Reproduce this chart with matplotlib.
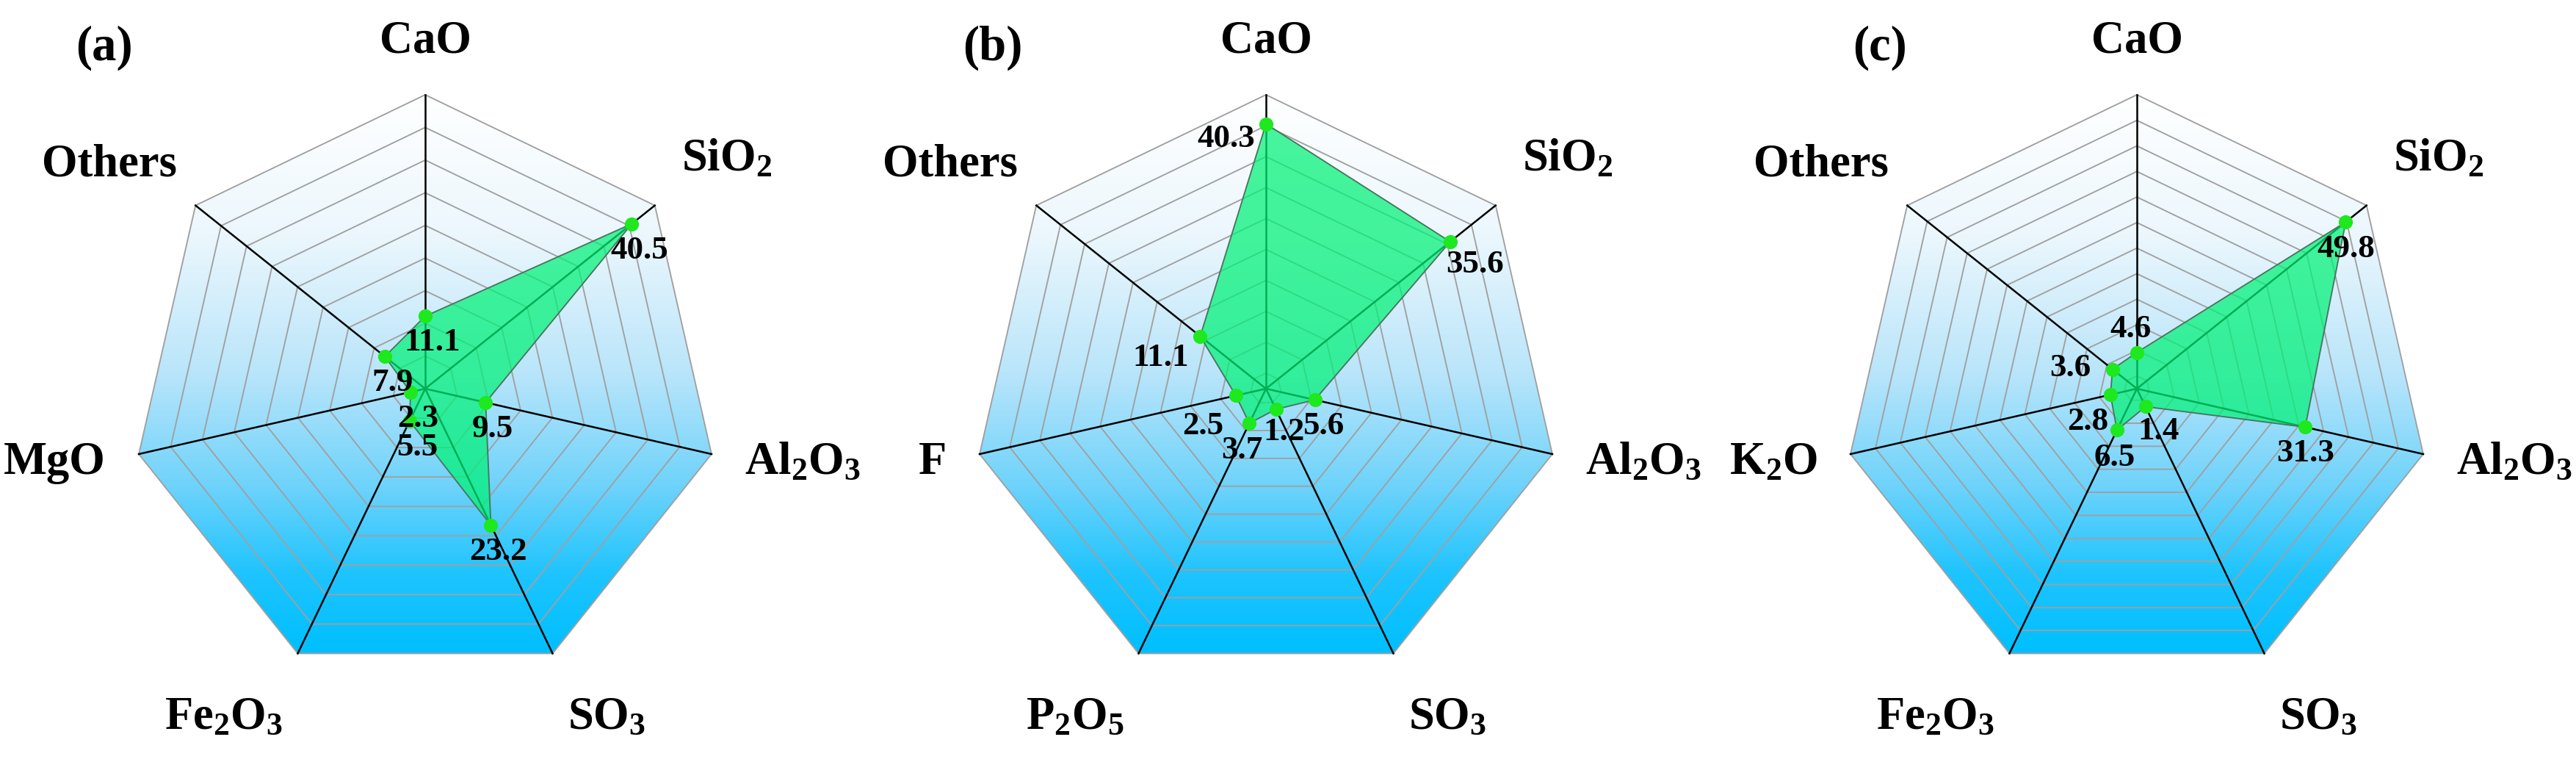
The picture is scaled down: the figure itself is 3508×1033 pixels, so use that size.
import numpy as np
import matplotlib
matplotlib.use('Agg')
import matplotlib.pyplot as plt
from matplotlib.patches import Polygon
from matplotlib.colors import LinearSegmentedColormap

plt.rcParams['font.family'] = 'Liberation Serif'
plt.rcParams['font.weight'] = 'bold'
plt.rcParams['mathtext.fontset'] = 'custom'
plt.rcParams['mathtext.rm'] = 'Liberation Serif:bold'
plt.rcParams['mathtext.it'] = 'Liberation Serif:bold'
plt.rcParams['mathtext.bf'] = 'Liberation Serif:bold'

# data (clockwise from top)
labels_a = ['CaO', r'SiO$_2$', r'Al$_2$O$_3$', r'SO$_3$', r'Fe$_2$O$_3$', 'MgO', 'Others']
values_a = [11.1, 40.5, 9.5, 23.2, 5.5, 2.3, 7.9]
labels_b = ['CaO', r'SiO$_2$', r'Al$_2$O$_3$', r'SO$_3$', r'P$_2$O$_5$', 'F', 'Others']
values_b = [40.3, 35.6, 5.6, 1.2, 3.7, 2.5, 11.1]
labels_c = ['CaO', r'SiO$_2$', r'Al$_2$O$_3$', r'SO$_3$', r'Fe$_2$O$_3$', r'K$_2$O', 'Others']
values_c = [4.6, 49.8, 31.3, 1.4, 6.5, 2.8, 3.6]
panels = ['(a)', '(b)', '(c)']

# radial axis range and ring step of each chart
scale_a = (0, 45, 5)
scale_b = (-2.5, 45, 5)
scale_c = (-2.5, 55, 5)

# layout (pixels)
W, H = 3508, 1033
R_PX = 400
CY = 529
centers_x = [579, 1724, 2910]
panel_x = [142, 1352, 2560]
# value label offsets from their point (px, y up)
val_off_a = [(10, -36)] * 7
val_off_b = [(-54, -20), (34, -31), (12, -36), (11, -31), (-10, -37), (-45, -42), (-54, -29)]
val_off_c = [(-8, 32), (0, -37), (0, -36), (18, -34), (-3, -38), (-31, -37), (-58, 2)]
# axis label offsets from the vertex (px, y up) and alignment
lab_off = [(0, 72, 'center'), (36, 62, 'left'), (45, -12, 'left'), (20, -88, 'left'),
           (-20, -88, 'right'), (-45, -12, 'right'), (-25, 55, 'right')]

cmap = LinearSegmentedColormap.from_list(
    'bg', [(0, '#ffffff'), (0.25, '#ecf7fd'), (0.5, '#b9e5fa'), (0.7, '#6fd3fb'),
           (0.86, '#1ec4fe'), (1, '#00bfff')])

n = 7
ang = np.deg2rad(90 - np.arange(n) * 360 / n)
ux, uy = np.cos(ang), np.sin(ang)

fig = plt.figure(figsize=(W / 300, H / 300), dpi=300)

charts = [(labels_a, values_a, scale_a, val_off_a),
          (labels_b, values_b, scale_b, val_off_b),
          (labels_c, values_c, scale_c, val_off_c)]

for i, (labels, values, scale, voff) in enumerate(charts):
    cx = centers_x[i]
    half = 580
    ax = fig.add_axes([(cx - half) / W, 0, 2 * half / W, 1])
    ax.set_xlim(-half / R_PX, half / R_PX)
    ax.set_ylim(-(H - CY) / R_PX, CY / R_PX)
    ax.set_axis_off()

    # gradient background clipped to the heptagon
    hept = Polygon(np.column_stack([ux, uy]), closed=True, transform=ax.transData,
                   facecolor='none', edgecolor='none')
    ax.add_patch(hept)
    grad = np.linspace(0, 1, 256).reshape(-1, 1)
    im = ax.imshow(grad, cmap=cmap, extent=(-1, 1, uy.min(), 1), aspect='auto',
                   origin='upper', zorder=0)
    im.set_clip_path(hept)

    rmin, rmax, step = scale
    first = np.ceil(rmin / step) * step
    if first <= rmin:
        first += step
    for v in np.arange(first, rmax + step / 2, step):
        r = (v - rmin) / (rmax - rmin)
        ax.plot(np.append(ux, ux[0]) * r, np.append(uy, uy[0]) * r,
                color='#a0a0a0', lw=0.45, zorder=1)
    for k in range(n):
        ax.plot([0, ux[k]], [0, uy[k]], color='black', lw=0.6, zorder=2)

    vals = np.array(values)
    rr = (vals - rmin) / (rmax - rmin)
    x, y = rr * ux, rr * uy
    ax.fill(x, y, color='#00f276', alpha=0.72, lw=0, zorder=3)
    ax.plot(np.append(x, x[0]), np.append(y, y[0]), color='#4a7560', lw=0.45, zorder=4)
    ax.plot(x, y, 'o', color='#1ee81e', ms=4.6, mec='none', zorder=5)

    for k in range(n):
        dx, dy = voff[k]
        ax.text(x[k] + dx / R_PX, y[k] + dy / R_PX, f'{values[k]}', ha='center', va='center',
                fontsize=10.8, fontweight='bold', zorder=6)
        ldx, ldy, ha = lab_off[k]
        ax.text(ux[k] + ldx / R_PX, uy[k] + ldy / R_PX, labels[k], ha=ha, va='center',
                fontsize=15, fontweight='bold', clip_on=False)

    ax.text((panel_x[i] - cx) / R_PX, (CY - 65) / R_PX, panels[i], ha='center', va='center',
            fontsize=16, fontweight='bold', clip_on=False)

fig.savefig('out.png', dpi=300)
